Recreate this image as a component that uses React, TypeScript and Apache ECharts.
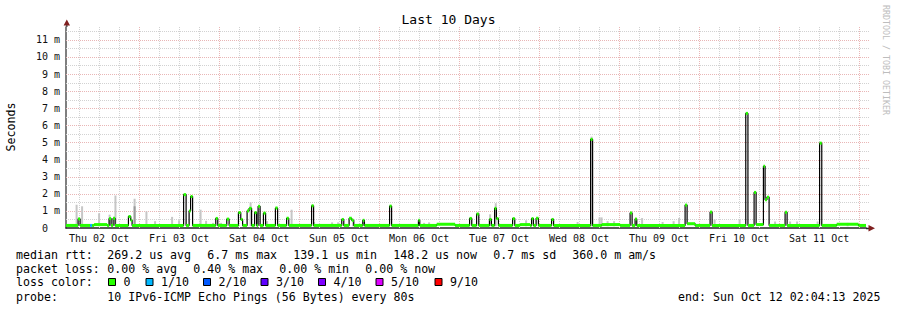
import React, { useEffect, useRef } from 'react';
import * as echarts from 'echarts';

// time axis: hours since Thu 02 Oct 2025 00:00
const START_H = 2.07;
const END_H = 242.07;
const Y_MAX = 11.75;

const dayNoonHours = [12, 36, 60, 84, 108, 132, 156, 180, 204, 228];
const dayLabels = ['Thu 02 Oct', 'Fri 03 Oct', 'Sat 04 Oct', 'Sun 05 Oct', 'Mon 06 Oct', 'Tue 07 Oct', 'Wed 08 Oct', 'Thu 09 Oct', 'Fri 10 Oct', 'Sat 11 Oct'];
const midnightHours = [24, 48, 72, 96, 120, 144, 168, 192, 216, 240];
const yMajorTicks = [1, 2, 3, 4, 5, 6, 7, 8, 9, 10, 11];
const yMinorTicks = [0.5, 1.5, 2.5, 3.5, 4.5, 5.5, 6.5, 7.5, 8.5, 9.5, 10.5, 11.5];

// median rtt (ms) change points: [hour, value ms, loss class]
const medianSteps: [number, number, number][] = [
  [2.07, 0.15, 0],
  [5.7, 0.53, 0], [6.3, 0.15, 0],
  [9.3, 0.15, 1], [9.9, 0.15, 0],
  [10.5, 0.2, 0], [14.4, 0.15, 0],
  [15.0, 0.55, 0], [15.6, 0.15, 0], [16.2, 0.57, 0], [16.8, 0.15, 0],
  [20.8, 0.67, 0], [21.5, 0.45, 0], [21.9, 0.15, 0],
  [37.35, 1.95, 0], [38.1, 0.15, 0],
  [39.0, 1.0, 0], [39.45, 1.84, 0], [40.05, 0.15, 0],
  [47.0, 0.56, 0], [47.6, 0.15, 0],
  [50.3, 0.52, 0], [51.0, 0.15, 0],
  [53.8, 0.9, 0], [54.5, 0.5, 0], [55.05, 0.15, 0],
  [56.4, 1.0, 0], [57.0, 1.15, 0], [57.75, 0.15, 0],
  [58.65, 0.9, 0], [59.25, 0.15, 0], [59.7, 1.27, 0], [60.3, 0.15, 0],
  [61.3, 0.87, 0], [61.95, 0.15, 0],
  [64.9, 1.17, 0], [65.55, 0.15, 0],
  [68.25, 0.57, 0], [68.9, 0.15, 0],
  [75.75, 1.3, 0], [76.35, 0.15, 0],
  [84.8, 0.5, 0], [85.4, 0.15, 0],
  [87.0, 0.57, 0], [87.8, 0.45, 0], [88.4, 0.15, 0],
  [91.1, 0.45, 0], [91.6, 0.15, 0],
  [99.15, 1.28, 0], [99.75, 0.15, 0],
  [107.8, 0.45, 0], [108.2, 0.15, 0],
  [113.3, 0.22, 0], [118.8, 0.15, 0],
  [123.15, 0.56, 0], [123.8, 0.15, 0],
  [125.25, 0.82, 0], [125.9, 0.15, 0],
  [129.1, 0.5, 0], [129.7, 0.15, 0],
  [130.65, 1.15, 0], [131.2, 0.55, 0], [131.8, 0.15, 0],
  [136.05, 0.55, 0], [136.7, 0.15, 0],
  [138.3, 0.2, 0], [141.3, 0.15, 0],
  [141.75, 0.55, 0], [142.3, 0.15, 0],
  [143.1, 0.57, 0], [143.8, 0.15, 0],
  [147.75, 0.5, 0], [148.35, 0.15, 0],
  [159.45, 5.18, 0], [160.05, 0.15, 0],
  [162.8, 0.2, 0], [168.3, 0.15, 0],
  [171.3, 0.88, 0], [171.9, 0.15, 0],
  [172.8, 0.53, 0], [173.3, 0.15, 0],
  [187.8, 1.34, 0], [188.4, 0.25, 0], [190.8, 0.15, 0],
  [195.3, 0.93, 0], [195.9, 0.15, 0],
  [206.0, 6.7, 0], [206.65, 0.15, 0],
  [208.5, 2.08, 0], [209.1, 0.2, 0], [211.3, 3.61, 0], [211.8, 1.65, 0], [212.35, 1.8, 0], [213.0, 0.15, 0],
  [217.8, 0.92, 0], [218.4, 0.15, 0],
  [228.15, 4.96, 0], [228.8, 0.15, 0],
  [233.3, 0.22, 0], [239.8, 0.15, 0],
];

// smoke (ping spread): [hour, top ms]
const smokeBars: [number, number][] = [
  [5.25, 1.36], [6.9, 1.27], [12.0, 0.86], [15.15, 0.78], [16.9, 1.9], [22.65, 1.71], [26.2, 0.97],
  [28.8, 0.4], [33.9, 0.65], [36.0, 0.45], [42.45, 1.07], [44.1, 0.42], [46.2, 0.3], [48.6, 0.3],
  [57.45, 1.5], [62.4, 0.4], [69.75, 1.07], [76.5, 0.35], [81.9, 0.33], [83.7, 0.33], [88.2, 0.4],
  [91.5, 0.35], [109.5, 0.3], [111.0, 0.33], [129.3, 0.8], [131.0, 1.45], [140.1, 0.45], [155.55, 0.35],
  [159.75, 5.34], [162.15, 0.62], [162.75, 0.62], [164.55, 0.4], [166.5, 0.4], [174.9, 0.58], [181.05, 0.35],
  [184.35, 0.4], [186.0, 0.58], [196.65, 0.5], [204.15, 0.47], [214.8, 0.38], [219.3, 0.38], [221.4, 0.38],
  [227.55, 0.38], [236.55, 0.3],
];
const smokeDark: [number, number][] = [[22.65, 1.27]];
const SMOKE_BOTTOM = 0.1;

const lossColors = ['#26ff00', '#00b8ff', '#0059ff', '#5e00ff', '#7e00ff', '#dd00ff', '#ff0000'];
const lossLabels = ['0', '1/10', '2/10', '3/10', '4/10', '5/10', '9/10'];

const rttStats = ['269.2 us avg', '6.7 ms max', '139.1 us min', '148.2 us now', '0.7 ms sd', '360.0 m am/s'];
const lossStats = ['0.00 % avg', '0.40 % max', '0.00 % min', '0.00 % now'];
const probeText = '10 IPv6-ICMP Echo Pings (56 Bytes) every 80s';
const endText = 'end: Sun Oct 12 02:04:13 2025';

const MONO = '"DejaVu Sans Mono", monospace';
const MAJOR_GRID = '#e9b6b6';
const MINOR_GRID = '#d2d2d2';

function buildOption() {
  const vGrid: number[][] = [];
  for (let h = 6; h < END_H; h += 6) vGrid.push([h, 0, midnightHours.includes(h) ? 1 : 0]);
  const hGrid: number[][] = [
    ...yMinorTicks.map((v) => [START_H, v, 0]),
    ...yMajorTicks.map((v) => [START_H, v, 1]),
  ];

  const medianLine = medianSteps.map((s) => [s[0], s[1]]);
  medianLine.push([END_H, medianSteps[medianSteps.length - 1][1]]);
  const medianSegs = medianSteps.map((s, i) => [
    s[0], s[1], i + 1 < medianSteps.length ? medianSteps[i + 1][0] : END_H, s[2],
  ]);

  const legendFont = `11.6px ${MONO}`;
  const txt = (text: string, x: number, y: number, extra: any = {}) => ({
    type: 'text', x, y, silent: true,
    style: { text, font: legendFont, fill: '#000', textAlign: 'left', textVerticalAlign: 'middle', verticalAlign: 'middle', ...extra },
  });

  const graphic: any[] = [];
  graphic.push(txt('Last 10 Days', 448.5, 19.5, { font: `13px ${MONO}`, textAlign: 'center' }));
  graphic.push({ ...txt('Seconds', 11, 127, { textAlign: 'center' }), rotation: Math.PI / 2 });
  graphic.push({ ...txt('RRDTOOL / TOBI OETIKER', 886, 5, { font: `8.3px ${MONO}`, fill: '#bdbdbd' }), rotation: -Math.PI / 2 });

  const rttX = [107.3, 207.3, 293.3, 393.3, 493.3, 572.3];
  graphic.push(txt('median rtt:', 16, 255));
  rttStats.forEach((s, i) => graphic.push(txt(s, rttX[i], 255)));
  const lossX = [107.3, 193.3, 279.3, 365.3];
  graphic.push(txt('packet loss:', 16, 268.5));
  lossStats.forEach((s, i) => graphic.push(txt(s, lossX[i], 268.5)));
  graphic.push(txt('loss color:', 16, 282.3));
  const boxX = [108.5, 146, 203.5, 261, 318.5, 376, 435];
  lossLabels.forEach((l, i) => {
    graphic.push({
      type: 'rect', silent: true,
      shape: { x: boxX[i], y: 278.5, width: 7, height: 7 },
      style: { fill: lossColors[i], stroke: '#000', lineWidth: 1 },
    });
    graphic.push(txt(l, boxX[i] + 15, 282.3));
  });
  graphic.push(txt('probe:', 16, 296.5));
  graphic.push(txt(probeText, 107.3, 296.5));
  graphic.push(txt(endText, 880.5, 296.5, { textAlign: 'right' }));

  // axis extensions and arrows
  graphic.push({ type: 'line', silent: true, shape: { x1: 866, y1: 228.5, x2: 869, y2: 228.5 }, style: { stroke: '#222', lineWidth: 1.5 } });
  graphic.push({ type: 'line', silent: true, shape: { x1: 66.8, y1: 27, x2: 66.8, y2: 24 }, style: { stroke: '#555', lineWidth: 1.5 } });
  graphic.push({ type: 'polygon', silent: true, shape: { points: [[868.5, 225], [875, 228.3], [868.5, 231.6]] }, style: { fill: '#7f1f1f' } });
  graphic.push({ type: 'polygon', silent: true, shape: { points: [[63.6, 25.5], [66.8, 19.5], [70, 25.5]] }, style: { fill: '#7f1f1f' } });

  return {
    animation: false,
    backgroundColor: '#ffffff',
    grid: { left: 66, top: 27, width: 800, height: 201 },
    xAxis: {
      type: 'value', min: START_H, max: END_H,
      axisLine: { show: true, lineStyle: { color: '#222', width: 1.5 } },
      axisTick: { show: false },
      splitLine: { show: false },
      axisLabel: {
        customValues: dayNoonHours,
        formatter: (v: number) => dayLabels[dayNoonHours.indexOf(Math.round(v))] ?? '',
        margin: 5, fontFamily: MONO, fontSize: 10, color: '#111',
      },
    },
    yAxis: {
      type: 'value', min: 0, max: Y_MAX, interval: 1,
      axisLine: { show: true, lineStyle: { color: '#555', width: 1.5 } },
      axisTick: { show: false },
      splitLine: { show: false },
      axisLabel: {
        margin: 6, fontFamily: MONO, fontSize: 10, color: '#111', showMaxLabel: false,
        formatter: (v: number) => (v === 0 ? '{z|0}' : Number.isInteger(v) ? `${v} m` : ''),
        rich: { z: { fontFamily: MONO, fontSize: 10, color: '#111', padding: [0, 12, 0, 0] } },
      },
    },
    graphic,
    series: [
      {
        type: 'custom', silent: true, z: 1, data: vGrid, encode: { x: 0, y: 1 },
        renderItem: (params: any, api: any) => {
          const cs = params.coordSys;
          const p = api.coord([api.value(0), 0]);
          const x = Math.round(p[0]) + 0.5;
          const major = api.value(2) === 1;
          return {
            type: 'line', shape: { x1: x, y1: cs.y, x2: x, y2: cs.y + cs.height },
            style: { stroke: major ? MAJOR_GRID : MINOR_GRID, lineWidth: 1, lineDash: [1, 1] },
          };
        },
      },
      {
        type: 'custom', silent: true, z: 1, data: hGrid, encode: { x: 0, y: 1 },
        renderItem: (params: any, api: any) => {
          const cs = params.coordSys;
          const p = api.coord([START_H, api.value(1)]);
          const y = Math.round(p[1]) + 0.5;
          const major = api.value(2) === 1;
          return {
            type: 'line', shape: { x1: cs.x, y1: y, x2: cs.x + cs.width + 3, y2: y },
            style: { stroke: major ? MAJOR_GRID : MINOR_GRID, lineWidth: 1, lineDash: [1, 1] },
          };
        },
      },
      {
        type: 'custom', silent: true, z: 2, data: smokeBars.map((s) => [s[0], s[1]]), encode: { x: 0, y: 1 },
        renderItem: (params: any, api: any) => {
          const a = api.coord([api.value(0) - 0.3, api.value(1)]);
          const b = api.coord([api.value(0) + 0.3, SMOKE_BOTTOM]);
          return { type: 'rect', shape: { x: a[0], y: a[1], width: b[0] - a[0], height: b[1] - a[1] }, style: { fill: '#c6c6c6' } };
        },
      },
      {
        type: 'custom', silent: true, z: 2, data: smokeDark.map((s) => [s[0], s[1]]), encode: { x: 0, y: 1 },
        renderItem: (params: any, api: any) => {
          const a = api.coord([api.value(0) - 0.3, api.value(1)]);
          const b = api.coord([api.value(0) + 0.3, SMOKE_BOTTOM]);
          return { type: 'rect', shape: { x: a[0], y: a[1], width: b[0] - a[0], height: b[1] - a[1] }, style: { fill: '#9a9a9a' } };
        },
      },
      {
        type: 'line', silent: true, z: 3, step: 'end', data: medianLine, showSymbol: false, symbol: 'none',
        lineStyle: { color: '#000', width: 1.2 },
      },
      {
        type: 'custom', silent: true, z: 4, data: medianSegs, encode: { x: [0, 2], y: 1 },
        renderItem: (params: any, api: any) => {
          const a = api.coord([api.value(0), api.value(1)]);
          const b = api.coord([api.value(2), api.value(1)]);
          return {
            type: 'rect', shape: { x: a[0], y: a[1] - 1.5, width: b[0] - a[0], height: 3 },
            style: { fill: lossColors[api.value(3)] },
          };
        },
      },
    ],
  };
}

export default function App() {
  const ref = useRef<HTMLDivElement>(null);
  useEffect(() => {
    if (!ref.current) return;
    const chart = echarts.init(ref.current, null, { renderer: 'svg' });
    chart.setOption(buildOption() as any);
    return () => chart.dispose();
  }, []);
  return <div ref={ref} style={{ position: 'fixed', left: 0, top: 0, width: 897, height: 310 }} />;
}
